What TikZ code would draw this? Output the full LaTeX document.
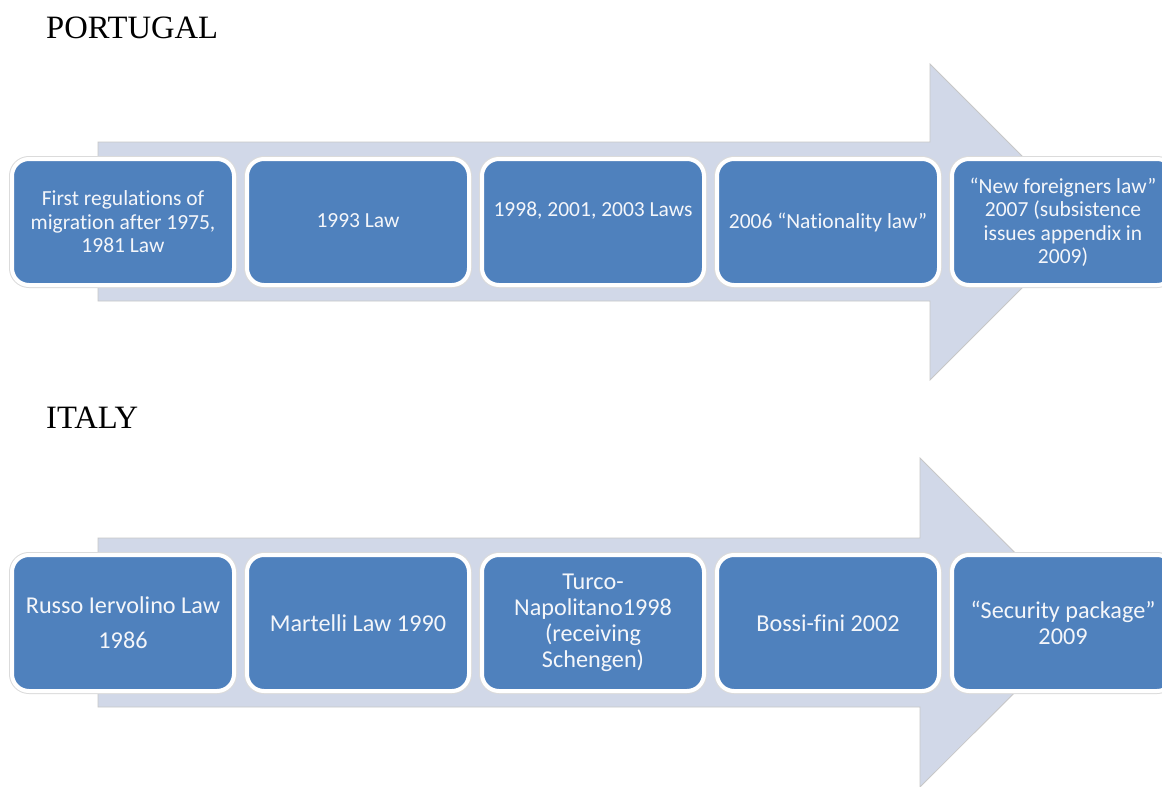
\documentclass[tikz,border=0pt]{standalone}
\usepackage{fontspec}
\setmainfont{Liberation Serif}
\newfontfamily\boxfont[Ligatures={NoCommon}]{Carlito}
\definecolor{boxblue}{HTML}{4F81BD}
\definecolor{arrowfill}{HTML}{D1D8E8}
\definecolor{txtwhite}{HTML}{F4F6FA}
\tikzset{
  lawbox/.style={rectangle, rounded corners=17pt, fill=boxblue, draw=white, line width=4pt,
    preaction={draw=black!14, line width=6pt},
    text=txtwhite, align=center, inner sep=0pt},
  pbox/.style={lawbox, minimum width=222pt, minimum height=126pt,
    font=\boxfont\fontsize{21.5}{23.5}\selectfont},
  ibox/.style={lawbox, minimum width=222pt, minimum height=136pt,
    font=\boxfont\fontsize{24.2}{26}\selectfont},
  ptxt/.style={text=txtwhite, align=center, inner sep=0pt,
    font=\boxfont\fontsize{21.5}{23.5}\selectfont},
  bigarrow/.style={fill=arrowfill, draw=black!22, line width=0.8pt},
  title/.style={anchor=west, inner sep=0pt, font=\fontsize{32.6}{36}\selectfont}
}
\begin{document}
\begin{tikzpicture}[x=1pt,y=-1pt]
\clip (0,0) rectangle (1162,787);
\fill[white] (0,0) rectangle (1162,787);

% titles
\node[title] (tp) at (46,28) {PORTUGAL};
\node[title] (ti) at (46,418) {ITALY};

% Portugal arrow
\draw[bigarrow] (98,142) -- (930,142) -- (930,64) -- (1088,222) -- (930,380) -- (930,301) -- (98,301) -- cycle;
% Italy arrow
\draw[bigarrow] (98,538) -- (920,538) -- (920,458) -- (1085,622.5) -- (920,787) -- (920,707) -- (98,707) -- cycle;

% Portugal boxes
\node[pbox] (p1) at (123,222) {First regulations of\\migration after 1975,\\1981 Law};
\node[pbox] (p2) at (358,222) {\raisebox{2pt}{1993 Law}};
\node[pbox] (p3) at (593,222) {};
\node[ptxt] (p3t) at (593,211) {1998, 2001, 2003 Laws};
\node[pbox] (p4) at (828,222) {2006 “Nationality law”};
\node[pbox] (p5) at (1063,222) {“New foreigners law”\\2007 (subsistence\\issues appendix in\\2009)};

% Italy boxes
\node[ibox] (i1) at (123,623) {Russo Iervolino Law\\[9pt]1986};
\node[ibox] (i2) at (358,623) {Martelli Law 1990};
\node[ibox] (i3) at (593,623) {Turco-\\Napolitano1998\\(receiving\\Schengen)};
\node[ibox] (i4) at (828,623) {Bossi-fini 2002};
\node[ibox] (i5) at (1063,623) {“Security package”\\2009};
\end{tikzpicture}
\end{document}
